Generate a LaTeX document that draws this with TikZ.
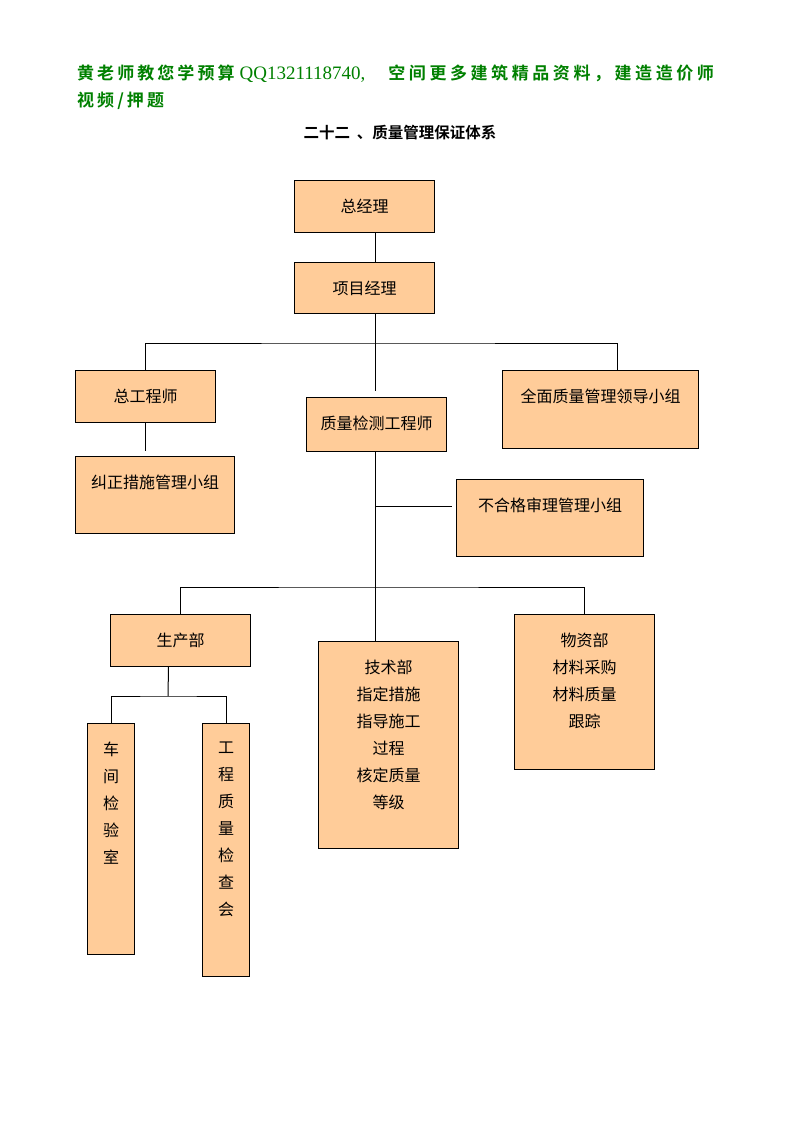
\documentclass[tikz,border=0pt]{standalone}
\usepackage{fontspec}
\setmainfont{Noto Sans CJK SC}[BoldFont={Noto Sans CJK SC Bold}]
\newfontfamily\qqfont{Liberation Serif}
\usepackage{xcolor}
\usepackage{tikz}
\definecolor{boxpeach}{HTML}{FFCC99}
\definecolor{adgreen}{HTML}{008000}

\begin{document}
\begin{tikzpicture}[
  x=1pt,y=-1pt,
  font=\fontsize{16pt}{27pt}\selectfont,
  box/.style 2 args={draw,fill=boxpeach,line width=1pt,inner sep=0pt,anchor=north west,
    execute at begin node={\begin{minipage}[c][#2][t]{#1}\centering\vspace*{18.5pt}},
    execute at end node={\end{minipage}}},
  adline/.style={anchor=west,inner xsep=0pt,text=adgreen,
    font=\fontsize{17pt}{26pt}\selectfont\bfseries\addfontfeature{LetterSpace=18}},
  link/.style={line width=1pt},
]
\useasboundingbox (0,0) rectangle (794,1123);
\node[adline] (ad1) at (77,74)
  {黄老师教您学预算\hspace{5pt}{\qqfont\mdseries\fontsize{19pt}{26pt}\selectfont QQ1321118740,}\hspace{23pt}{\addfontfeature{LetterSpace=21}空间更多建筑精品资料，建造造价师}};
\node[adline] (ad2) at (77,101) {视频/押题};
\node[font=\fontsize{15.5pt}{20pt}\selectfont\bfseries] (title) at (400,133) {二十二\hspace{7pt}、质量管理保证体系};

\node[box={140pt}{52pt}] (gm) at (294,180) {总经理};
\node[box={140pt}{51pt}] (pm) at (294,262) {项目经理};
\node[box={140pt}{52pt}] (ce) at (75,370) {总工程师};
\node[box={159pt}{77pt}] (corr) at (75,456) {纠正措施管理小组};
\node[box={140pt}{54pt}] (qe) at (306,397) {质量检测工程师};
\node[box={196pt}{78pt}] (tqm) at (502,370) {全面质量管理领导小组};
\node[box={187pt}{77pt}] (ncr) at (456,479) {不合格审理管理小组};
\node[box={140pt}{52pt}] (prod) at (110,614) {生产部};
\node[box={140pt}{207pt}] (tech) at (318,641) {技术部\\指定措施\\指导施工\\过程\\核定质量\\等级};
\node[box={140pt}{155pt}] (mat) at (514,614) {物资部\\材料采购\\材料质量\\跟踪};
\node[box={47pt}{231pt}] (lab) at (87,723) {车\\间\\检\\验\\室};
\node[box={47pt}{253pt}] (insp) at (202,723) {工\\程\\质\\量\\检\\查\\会};

\coordinate (trunk) at (375,0);
\coordinate (b1) at (375,343);
\coordinate (b2) at (375,506);
\coordinate (b3) at (375,587);
\coordinate (b4) at (168,696);

\draw[link] (gm.south -| trunk) -- (pm.north -| trunk);
\draw[link,shorten >=6pt] (pm.south -| trunk) -- (qe.north -| trunk);
\draw[link] (ce.north) |- (b1) -| ([xshift=17pt]tqm.north);
\draw[link,shorten >=5pt] (ce.south) -- (ce.south |- corr.north);
\draw[link] (qe.south -| trunk) -- (tech.north -| trunk);
\draw[link,shorten >=4pt] (b2) -- (b2 -| ncr.west);
\draw[link] (prod.north) |- (b3) -| (mat.north);
\draw[link] ([xshift=-12pt]prod.south) -- (b4);
\draw[link] (lab.north) |- (b4) -| (insp.north);
\end{tikzpicture}
\end{document}
